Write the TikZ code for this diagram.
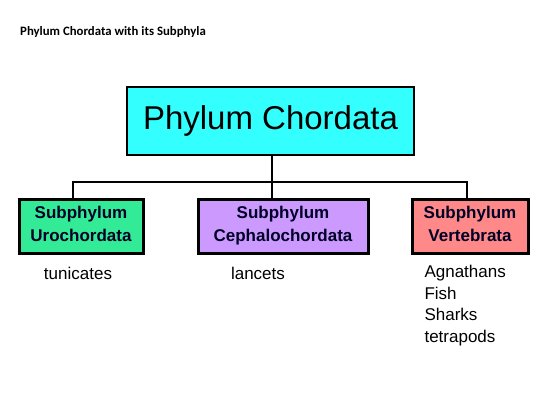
\documentclass[tikz,border=0pt]{standalone}
\usepackage{fontspec}
\setmainfont{Liberation Sans}
\newfontfamily\titlefont{Carlito}
\definecolor{topcyan}{RGB}{51,255,255}
\definecolor{subgreen}{RGB}{51,235,150}
\definecolor{subpurple}{RGB}{204,153,255}
\definecolor{subred}{RGB}{255,136,136}
\begin{document}
\begin{tikzpicture}[x=1pt,y=-1pt,
  topbox/.style={draw=black,line width=1.8pt,fill=topcyan,minimum width=287pt,minimum height=68pt,font=\fontsize{33}{38}\selectfont},
  subbox/.style={draw=black,line width=3pt,align=center,minimum height=54pt,font=\fontsize{17}{23}\selectfont\bfseries,text=black!85!blue},
  conn/.style={line width=1.5pt},
  plain/.style={font=\fontsize{17}{21.5}\selectfont}]
\useasboundingbox (0,0) rectangle (546,410);
\node[anchor=west,inner sep=0pt,font=\titlefont\fontsize{12.8}{14}\selectfont\bfseries] (title) at (20,32) {Phylum Chordata with its Subphyla};
\node[topbox] (top) at (270.5,121) {Phylum Chordata};
\node[subbox,fill=subgreen,minimum width=124pt] (uro) at (81,226) {Subphylum\\Urochordata\vphantom{p}};
\node[subbox,fill=subpurple,minimum width=170pt] (ceph) at (283,226) {Subphylum\\Cephalochordata};
\node[subbox,fill=subred,minimum width=116pt] (vert) at (470,226) {Subphylum\\Vertebrata\vphantom{p}};
\coordinate (hub) at (272,182);
\draw[conn] (top.south -| hub) -- (hub);
\draw[conn] (uro.north -| 73,0) |- (hub) -| (vert.north -| 467,0);
\draw[conn] (hub) -- (ceph.north -| hub);
\node[plain] (tun) at (78,273) {tunicates};
\node[plain] (lan) at (258,273) {lancets};
\node[plain,anchor=north west,align=left] (vlist) at (421,262) {Agnathans\\Fish\\Sharks\\tetrapods};
\end{tikzpicture}
\end{document}
